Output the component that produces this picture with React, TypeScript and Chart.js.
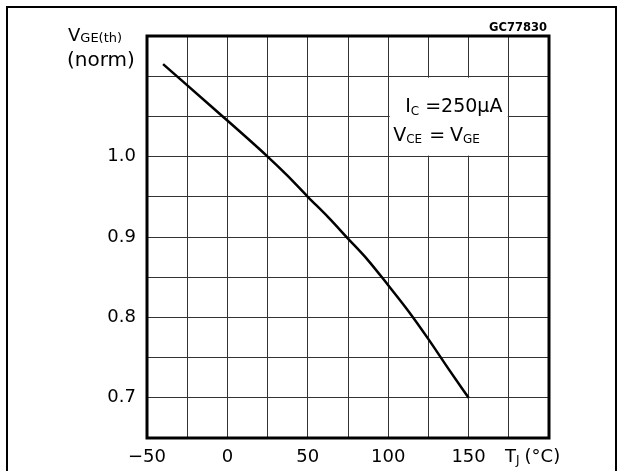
import React, { useEffect, useRef } from "react";
import { Chart, registerables } from "chart.js";

Chart.register(...registerables);

// ---- data ----
const tempC = [-40, -7.5, 25, 37.5, 50, 62.5, 75, 87.5, 100, 112.5, 125, 137.5, 150];
const vgeNorm = [1.115, 1.058, 1.0, 0.976, 0.95, 0.925, 0.898, 0.871, 0.84, 0.808, 0.773, 0.736, 0.7];
const xLabeledTicks = [-50, 0, 50, 100, 150];
const yLabeledTicks = [0.7, 0.8, 0.9, 1.0];
const xRange = [-50, 200];
const yRange = [0.65, 1.15];
const drawingCode = "GC77830";
const condCurrent = "=250µA";

const FONT = '"DejaVu Sans", sans-serif';

function drawSub(
  ctx: CanvasRenderingContext2D,
  x: number,
  y: number,
  main: string,
  sub: string,
  mainSize: number,
  subSize: number,
  drop: number
): number {
  ctx.font = `${mainSize}px ${FONT}`;
  ctx.fillText(main, x, y);
  const w = ctx.measureText(main).width;
  ctx.font = `${subSize}px ${FONT}`;
  ctx.fillText(sub, x + w, y + drop);
  return x + w + ctx.measureText(sub).width;
}

const overlay = {
  id: "overlay",
  beforeDatasetsDraw(chart: any) {
    const ctx: CanvasRenderingContext2D = chart.ctx;
    const xs = chart.scales.x;
    const ys = chart.scales.y;
    const l = xs.getPixelForValue(100);
    const r = xs.getPixelForValue(175);
    const t = ys.getPixelForValue(1.1);
    const b = ys.getPixelForValue(1.0);
    ctx.save();
    ctx.fillStyle = "#ffffff";
    ctx.fillRect(l + 1.5, t + 1.5, r - l - 2.5, b - t - 2.5);
    ctx.restore();
  },
  afterDraw(chart: any) {
    const ctx: CanvasRenderingContext2D = chart.ctx;
    const a = chart.chartArea;
    ctx.save();
    ctx.strokeStyle = "#000";
    ctx.fillStyle = "#000";
    // outer frame
    ctx.lineWidth = 2;
    ctx.strokeRect(7, 7, 609, 480);
    // plot frame
    ctx.lineWidth = 3;
    ctx.strokeRect(a.left, a.top, a.right - a.left, a.bottom - a.top);

    ctx.textAlign = "left";
    ctx.textBaseline = "alphabetic";
    // y axis title
    drawSub(ctx, 68, 41, "V", "GE(th)", 18, 13, 1);
    ctx.font = `20px ${FONT}`;
    ctx.fillText("(norm)", 67, 66);

    // drawing code
    ctx.font = `bold 11.5px ${FONT}`;
    ctx.textAlign = "right";
    ctx.fillText(drawingCode, a.right - 2, 31);
    ctx.textAlign = "left";

    // conditions box
    const bx = chart.scales.x.getPixelForValue(100);
    let x = drawSub(ctx, bx + 17, 112, "I", "C", 19, 12, 3);
    ctx.font = `19px ${FONT}`;
    ctx.fillText(condCurrent, x + 6, 112);
    x = drawSub(ctx, bx + 5, 141, "V", "CE", 19, 12, 2);
    ctx.font = `19px ${FONT}`;
    ctx.fillText("=", x + 7, 141);
    const wEq = ctx.measureText("=").width;
    drawSub(ctx, x + 7 + wEq + 5, 141, "V", "GE", 19, 12, 2);

    // x axis title
    x = drawSub(ctx, 505, 462, "T", "J", 18, 12, 2);
    ctx.font = `18px ${FONT}`;
    ctx.fillText("(°C)", x + 5, 462);
    ctx.restore();
  },
};

export default function App() {
  const ref = useRef<HTMLCanvasElement | null>(null);
  useEffect(() => {
    if (!ref.current) return;
    const chart = new Chart(ref.current, {
      type: "line",
      data: {
        datasets: [
          {
            data: tempC.map((t, i) => ({ x: t, y: vgeNorm[i] })),
            borderColor: "#000",
            borderWidth: 2.5,
            pointRadius: 0,
            cubicInterpolationMode: "monotone",
            fill: false,
          },
        ],
      },
      options: {
        animation: false,
        responsive: false,
        devicePixelRatio: 1,
        layout: { padding: { left: 0, top: 36, right: 73, bottom: 0 } },
        plugins: { legend: { display: false }, tooltip: { enabled: false }, title: { display: false } },
        scales: {
          x: {
            type: "linear",
            min: xRange[0],
            max: xRange[1],
            border: { display: false },
            grid: { color: "#333", lineWidth: 1, drawTicks: false },
            ticks: {
              stepSize: 25,
              autoSkip: false,
              maxRotation: 0,
              padding: 9,
              color: "#000",
              font: { family: FONT, size: 18 },
              callback: (v: any) => {
                const n = Number(v);
                if (!xLabeledTicks.some((t) => Math.abs(t - n) < 1e-6)) return "";
                return n < 0 ? "\u2212" + Math.abs(n) : String(n);
              },
            },
            afterFit: (s: any) => {
              s.height = 33;
            },
          },
          y: {
            type: "linear",
            min: yRange[0],
            max: yRange[1],
            border: { display: false },
            grid: { color: "#333", lineWidth: 1, drawTicks: false },
            ticks: {
              stepSize: 0.05,
              autoSkip: false,
              padding: 11,
              color: "#000",
              font: { family: FONT, size: 18 },
              callback: (v: any) => {
                const n = Number(v);
                const hit = yLabeledTicks.find((t) => Math.abs(t - n) < 1e-6);
                return hit === undefined ? "" : hit.toFixed(1);
              },
            },
            afterFit: (s: any) => {
              s.width = 147;
            },
          },
        },
      },
      plugins: [overlay],
    });
    return () => chart.destroy();
  }, []);
  return (
    <div style={{ position: "fixed", left: 0, top: 0, width: 622, height: 471, background: "#fff" }}>
      <canvas ref={ref} width={622} height={471} style={{ display: "block" }} />
    </div>
  );
}
